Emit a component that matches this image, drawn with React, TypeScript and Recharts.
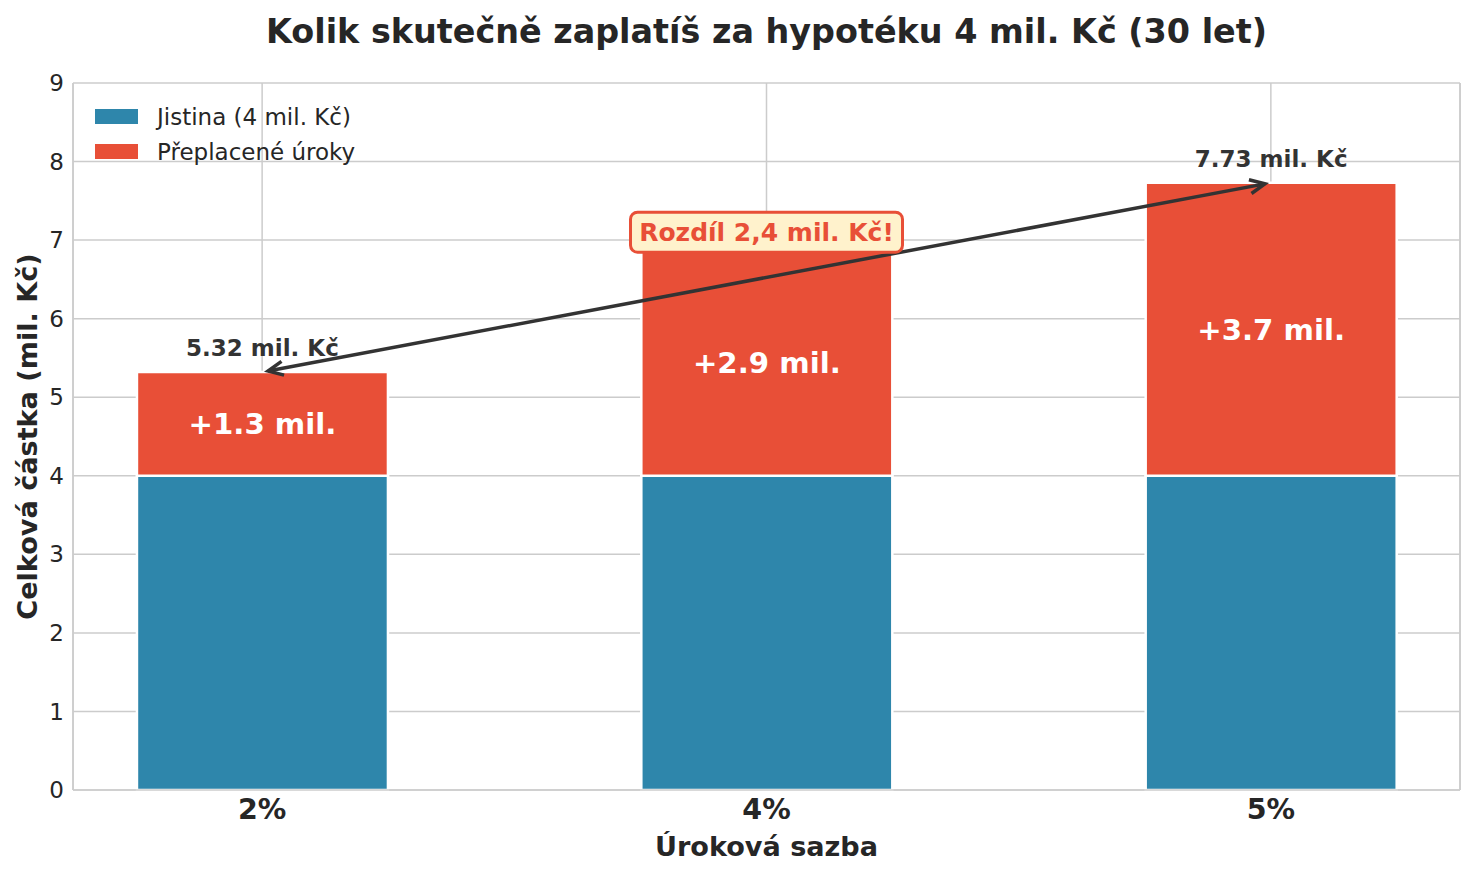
import React from "react";
import {
  BarChart,
  Bar,
  XAxis,
  YAxis,
  CartesianGrid,
  Legend,
  LabelList,
  ReferenceLine,
  ReferenceDot,
} from "recharts";

const FONT = "'DejaVu Sans', 'Liberation Sans', sans-serif";
const BLUE = "#2E86AB";
const RED = "#E84F37";
const INK = "#262626";
const DARK = "#333333";
const GRID = "#cccccc";

const rates = ["2%", "4%", "5%"];
const principal = [4, 4, 4];
const interest = [1.32, 2.87, 3.73];
const yTicks = [0, 1, 2, 3, 4, 5, 6, 7, 8, 9];
const xPositions = [0, 1, 2];
const xDomain = [-0.375, 2.375];
const boxLevel = 7.1;

const data = rates.map((rate, i) => ({
  pos: xPositions[i],
  rate,
  principal: principal[i],
  interest: interest[i],
  total: principal[i] + interest[i],
}));

const first = data[0];
const last = data[data.length - 1];
const diff = last.total - first.total;

const legendItems = [
  { label: "Jistina (4 mil. Kč)", color: BLUE },
  { label: "Přeplacené úroky", color: RED },
];

function LegendBox() {
  return (
    <div style={{ fontFamily: FONT, fontSize: 23, color: INK }}>
      {legendItems.map((it) => (
        <div
          key={it.label}
          style={{ display: "flex", alignItems: "center", height: 35 }}
        >
          <span
            style={{
              display: "inline-block",
              width: 43,
              height: 15,
              background: it.color,
              marginRight: 19,
            }}
          />
          <span>{it.label}</span>
        </div>
      ))}
    </div>
  );
}

// double headed arrow between the two totals
function Arrow(props: any) {
  const { x1, y1, x2, y2 } = props;
  if (x1 == null) return null;
  const dx = x2 - x1;
  const dy = y2 - y1;
  const len = Math.sqrt(dx * dx + dy * dy);
  const ux = dx / len;
  const uy = dy / len;
  const shrink = 6;
  const ax = x1 + ux * shrink;
  const ay = y1 + uy * shrink;
  const bx = x2 - ux * shrink;
  const by = y2 - uy * shrink;
  const hl = 15;
  const hw = 7;
  const head = (px: number, py: number, dir: number) => {
    const bxh = px - dir * ux * hl;
    const byh = py - dir * uy * hl;
    return `M${bxh - uy * hw},${byh + ux * hw} L${px},${py} L${bxh + uy * hw},${byh - ux * hw}`;
  };
  return (
    <g>
      <line x1={ax} y1={ay} x2={bx} y2={by} stroke={DARK} strokeWidth={3.5} />
      <path d={head(bx, by, 1)} fill="none" stroke={DARK} strokeWidth={3.5} />
      <path d={head(ax, ay, -1)} fill="none" stroke={DARK} strokeWidth={3.5} />
    </g>
  );
}

function DiffBox(props: any) {
  const { cx, cy } = props;
  if (cx == null) return null;
  const w = 272;
  const h = 40;
  return (
    <g>
      <rect
        x={cx - w / 2}
        y={cy - h / 2}
        width={w}
        height={h}
        rx={7}
        fill="#FFF2CC"
        stroke={RED}
        strokeWidth={3}
      />
      <text
        x={cx}
        y={cy}
        textAnchor="middle"
        dominantBaseline="central"
        fontFamily={FONT}
        fontWeight="bold"
        fontSize={25}
        fill={RED}
      >
        {`Rozdíl ${diff.toFixed(1).replace(".", ",")} mil. Kč!`}
      </text>
    </g>
  );
}

function TotalLabel(props: any) {
  const { x, y, width, value, index } = props;
  if (index !== 0 && index !== data.length - 1) return null;
  return (
    <text
      x={x + width / 2}
      y={y - 16}
      textAnchor="middle"
      fontFamily={FONT}
      fontWeight="bold"
      fontSize={23}
      fill={DARK}
    >
      {`${Number(value).toFixed(2)} mil. Kč`}
    </text>
  );
}

export default function App() {
  return (
    <div
      style={{
        position: "absolute",
        left: 0,
        top: 0,
        width: 1475,
        height: 875,
        background: "#fff",
        fontFamily: FONT,
      }}
    >
      <div
        style={{
          position: "absolute",
          left: 73,
          width: 1387,
          top: 12,
          textAlign: "center",
          fontSize: 33.4,
          fontWeight: "bold",
          color: INK,
          lineHeight: "40px",
        }}
      >
        Kolik skutečně zaplatíš za hypotéku 4 mil. Kč (30 let)
      </div>
      <BarChart
        width={1475}
        height={875}
        data={data}
        margin={{ top: 83, right: 15, bottom: 30, left: 13 }}
        style={{ position: "absolute", left: 0, top: 0 }}
      >
        <CartesianGrid stroke={GRID} strokeWidth={1.5} />
        <XAxis
          type="number"
          dataKey="pos"
          domain={xDomain}
          ticks={xPositions}
          tickFormatter={(v: number) => rates[v]}
          height={55}
          tickLine={false}
          tickSize={0}
          tickMargin={9}
          axisLine={{ stroke: GRID, strokeWidth: 1.6 }}
          tick={{ fill: INK, fontSize: 28.5, fontWeight: "bold", fontFamily: FONT }}
          label={{
            content: (p: any) => (
              <text
                x={p.viewBox.x + p.viewBox.width / 2}
                y={p.viewBox.y + 56}
                textAnchor="middle"
                dominantBaseline="central"
                fontFamily={FONT}
                fontWeight="bold"
                fontSize={27.1}
                fill={INK}
              >
                Úroková sazba
              </text>
            ),
          }}
        />
        <YAxis
          domain={[0, 9]}
          ticks={yTicks}
          width={60}
          tickLine={false}
          tickSize={0}
          tickMargin={9}
          axisLine={{ stroke: GRID, strokeWidth: 1.6 }}
          tick={{ fill: INK, fontSize: 23, fontFamily: FONT }}
          label={{
            content: (p: any) => {
              const cx = p.viewBox.x + 14;
              const cy = p.viewBox.y + p.viewBox.height / 2;
              return (
                <text
                  x={cx}
                  y={cy}
                  transform={`rotate(-90 ${cx} ${cy})`}
                  textAnchor="middle"
                  dominantBaseline="central"
                  fontFamily={FONT}
                  fontWeight="bold"
                  fontSize={27.1}
                  fill={INK}
                >
                  Celková částka (mil. Kč)
                </text>
              );
            },
          }}
        />
        <ReferenceLine x={xDomain[1]} stroke={GRID} strokeWidth={1.6} />
        <Legend
          layout="vertical"
          align="center"
          verticalAlign="middle"
          wrapperStyle={{ top: 99, left: 95, width: 330 }}
          content={() => <LegendBox />}
        />
        <Bar
          dataKey="principal"
          stackId="a"
          fill={BLUE}
          stroke="#fff"
          strokeWidth={2.5}
          barSize={251}
          isAnimationActive={false}
        />
        <Bar
          dataKey="interest"
          stackId="a"
          fill={RED}
          stroke="#fff"
          strokeWidth={2.5}
          barSize={251}
          isAnimationActive={false}
        >
          <LabelList
            dataKey="interest"
            position="center"
            formatter={(v: any) => `+${Number(v).toFixed(1)} mil.`}
            fill="#fff"
            fontSize={29.2}
            fontWeight="bold"
            fontFamily={FONT}
          />
          <LabelList dataKey="total" content={<TotalLabel />} />
        </Bar>
        <ReferenceLine
          segment={[
            { x: first.pos, y: first.total },
            { x: last.pos, y: last.total },
          ]}
          shape={<Arrow />}
        />
        <ReferenceDot x={data[1].pos} y={boxLevel} shape={<DiffBox />} />
      </BarChart>
    </div>
  );
}
